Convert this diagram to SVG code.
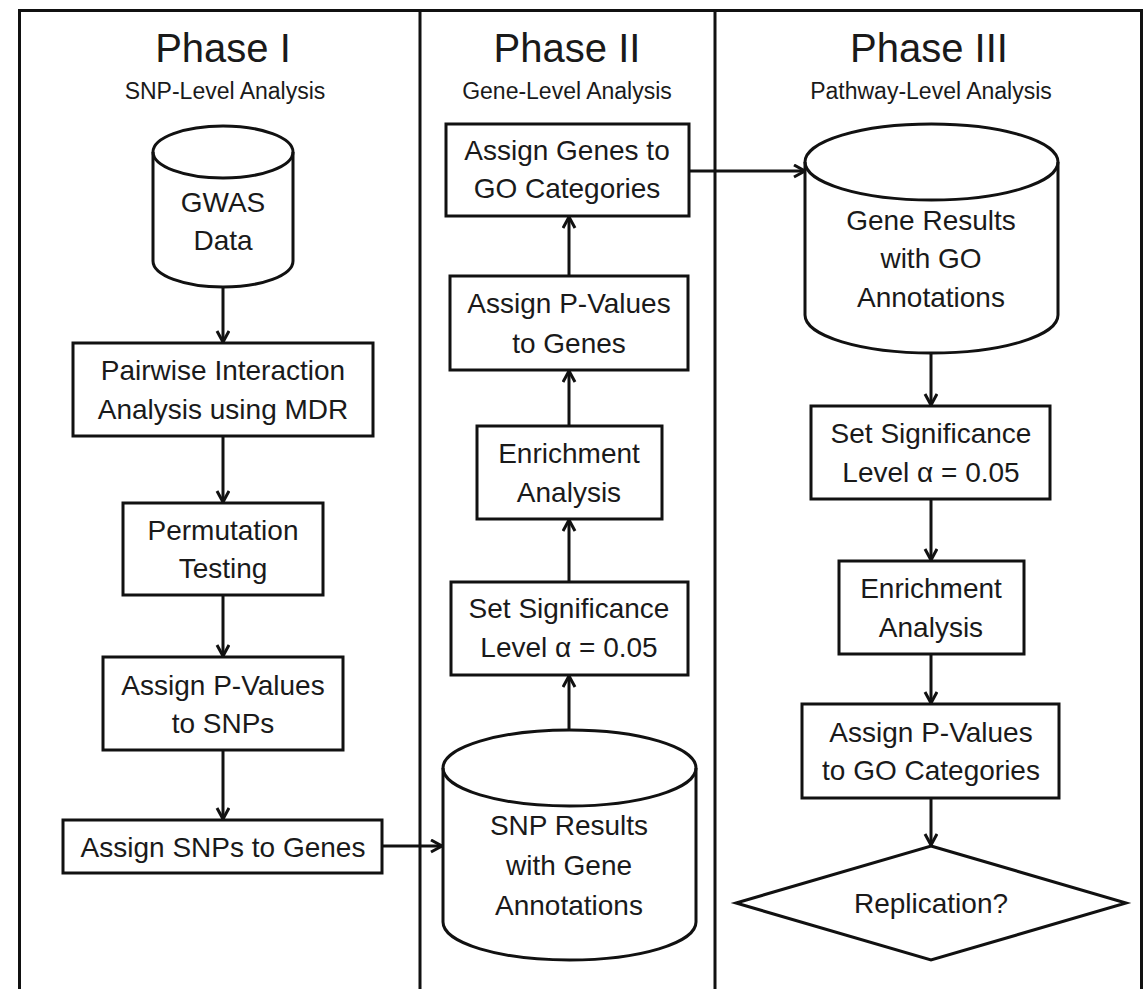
<svg xmlns="http://www.w3.org/2000/svg" width="1144" height="989" viewBox="0 0 1144 989">
<style>
  .frame { fill: none; stroke: #111; stroke-width: 3; }
  .node { fill: #fff; stroke: #111; stroke-width: 3; }
  .edge { fill: none; stroke: #111; stroke-width: 3; }
  text { font-family: "Liberation Sans", Arial, sans-serif; fill: #1a1a1a; text-anchor: middle; }
  .title { font-size: 40px; }
  .sub { font-size: 23px; }
  .lbl { font-size: 28px; }
</style>
<defs>
  <marker id="arr" markerUnits="userSpaceOnUse" markerWidth="16" markerHeight="16" refX="12" refY="7" orient="auto">
    <path d="M1,1 L12,7 L1,13" fill="none" stroke="#111" stroke-width="3"/>
  </marker>
</defs>
<rect width="1144" height="989" fill="#fff"/>
<g id="frame">
  <path class="frame" d="M19.5,989 V10.5 H1141.5 V989"/>
  <line class="frame" x1="420" y1="10" x2="420" y2="989"/>
  <line class="frame" x1="715" y1="10" x2="715" y2="989"/>
</g>
<g id="headers">
  <text class="title" x="223" y="62">Phase I</text>
  <text class="sub" x="225" y="99">SNP-Level Analysis</text>
  <text class="title" x="567" y="62">Phase II</text>
  <text class="sub" x="567" y="99">Gene-Level Analysis</text>
  <text class="title" x="929" y="62">Phase III</text>
  <text class="sub" x="931" y="99">Pathway-Level Analysis</text>
</g>
<g id="connectors">
  <line class="edge" x1="223" y1="288" x2="223" y2="342" marker-end="url(#arr)"/>
  <line class="edge" x1="223" y1="437" x2="223" y2="502" marker-end="url(#arr)"/>
  <line class="edge" x1="223" y1="596" x2="223" y2="656" marker-end="url(#arr)"/>
  <line class="edge" x1="223" y1="751" x2="223" y2="819" marker-end="url(#arr)"/>
  <line class="edge" x1="382" y1="846" x2="442" y2="846" marker-end="url(#arr)"/>
  <line class="edge" x1="569" y1="730" x2="569" y2="676" marker-end="url(#arr)"/>
  <line class="edge" x1="569" y1="582" x2="569" y2="520" marker-end="url(#arr)"/>
  <line class="edge" x1="569" y1="426" x2="569" y2="371" marker-end="url(#arr)"/>
  <line class="edge" x1="569" y1="276" x2="569" y2="217" marker-end="url(#arr)"/>
  <line class="edge" x1="689" y1="171" x2="805" y2="171" marker-end="url(#arr)"/>
  <line class="edge" x1="931" y1="354" x2="931" y2="405" marker-end="url(#arr)"/>
  <line class="edge" x1="931" y1="500" x2="931" y2="560" marker-end="url(#arr)"/>
  <line class="edge" x1="931" y1="655" x2="931" y2="703" marker-end="url(#arr)"/>
  <line class="edge" x1="931" y1="799" x2="931" y2="845" marker-end="url(#arr)"/>
</g>
<g id="gwas">
  <path class="node" d="M153,152 A70,26 0 0 1 293,152 V261 A70,26 0 0 1 153,261 Z"/>
  <path class="edge" d="M153,152 A70,26 0 0 0 293,152"/>
  <text class="lbl" x="223" y="212">GWAS</text>
  <text class="lbl" x="223" y="250">Data</text>
</g>
<g id="pairwise">
  <rect class="node" x="73" y="343" width="300" height="93"/>
  <text class="lbl" x="223" y="380">Pairwise Interaction</text>
  <text class="lbl" x="223" y="419">Analysis using MDR</text>
</g>
<g id="permutation">
  <rect class="node" x="123" y="503" width="200" height="92"/>
  <text class="lbl" x="223" y="540">Permutation</text>
  <text class="lbl" x="223" y="578">Testing</text>
</g>
<g id="pval-snps">
  <rect class="node" x="103" y="657" width="240" height="93"/>
  <text class="lbl" x="223" y="695">Assign P-Values</text>
  <text class="lbl" x="223" y="733">to SNPs</text>
</g>
<g id="snps-genes">
  <rect class="node" x="63" y="820" width="319" height="53"/>
  <text class="lbl" x="223" y="857">Assign SNPs to Genes</text>
</g>
<g id="snp-results">
  <path class="node" d="M443,768 A126.5,38 0 0 1 696,768 V922 A126.5,38 0 0 1 443,922 Z"/>
  <path class="edge" d="M443,768 A126.5,38 0 0 0 696,768"/>
  <text class="lbl" x="569" y="835">SNP Results</text>
  <text class="lbl" x="569" y="875">with Gene</text>
  <text class="lbl" x="569" y="915">Annotations</text>
</g>
<g id="sig2">
  <rect class="node" x="451" y="582" width="237" height="93"/>
  <text class="lbl" x="569" y="618">Set Significance</text>
  <text class="lbl" x="569" y="657">Level α = 0.05</text>
</g>
<g id="enrich2">
  <rect class="node" x="477" y="426" width="185" height="93"/>
  <text class="lbl" x="569" y="463">Enrichment</text>
  <text class="lbl" x="569" y="502">Analysis</text>
</g>
<g id="pval-genes">
  <rect class="node" x="450" y="276" width="238" height="94"/>
  <text class="lbl" x="569" y="313">Assign P-Values</text>
  <text class="lbl" x="569" y="353">to Genes</text>
</g>
<g id="genes-go">
  <rect class="node" x="446" y="124" width="243" height="92"/>
  <text class="lbl" x="567" y="160">Assign Genes to</text>
  <text class="lbl" x="567" y="198">GO Categories</text>
</g>
<g id="gene-results">
  <path class="node" d="M805,162 A126.5,38 0 0 1 1058,162 V315 A126.5,38 0 0 1 805,315 Z"/>
  <path class="edge" d="M805,162 A126.5,38 0 0 0 1058,162"/>
  <text class="lbl" x="931" y="230">Gene Results</text>
  <text class="lbl" x="931" y="268">with GO</text>
  <text class="lbl" x="931" y="307">Annotations</text>
</g>
<g id="sig3">
  <rect class="node" x="811" y="406" width="239" height="93"/>
  <text class="lbl" x="931" y="443">Set Significance</text>
  <text class="lbl" x="931" y="482">Level α = 0.05</text>
</g>
<g id="enrich3">
  <rect class="node" x="839" y="561" width="185" height="93"/>
  <text class="lbl" x="931" y="598">Enrichment</text>
  <text class="lbl" x="931" y="637">Analysis</text>
</g>
<g id="pval-go">
  <rect class="node" x="802" y="704" width="257" height="94"/>
  <text class="lbl" x="931" y="742">Assign P-Values</text>
  <text class="lbl" x="931" y="780">to GO Categories</text>
</g>
<g id="replication">
  <polygon class="node" points="931,846 1126,903 931,960 736,903"/>
  <text class="lbl" x="931" y="913">Replication?</text>
</g>
</svg>
